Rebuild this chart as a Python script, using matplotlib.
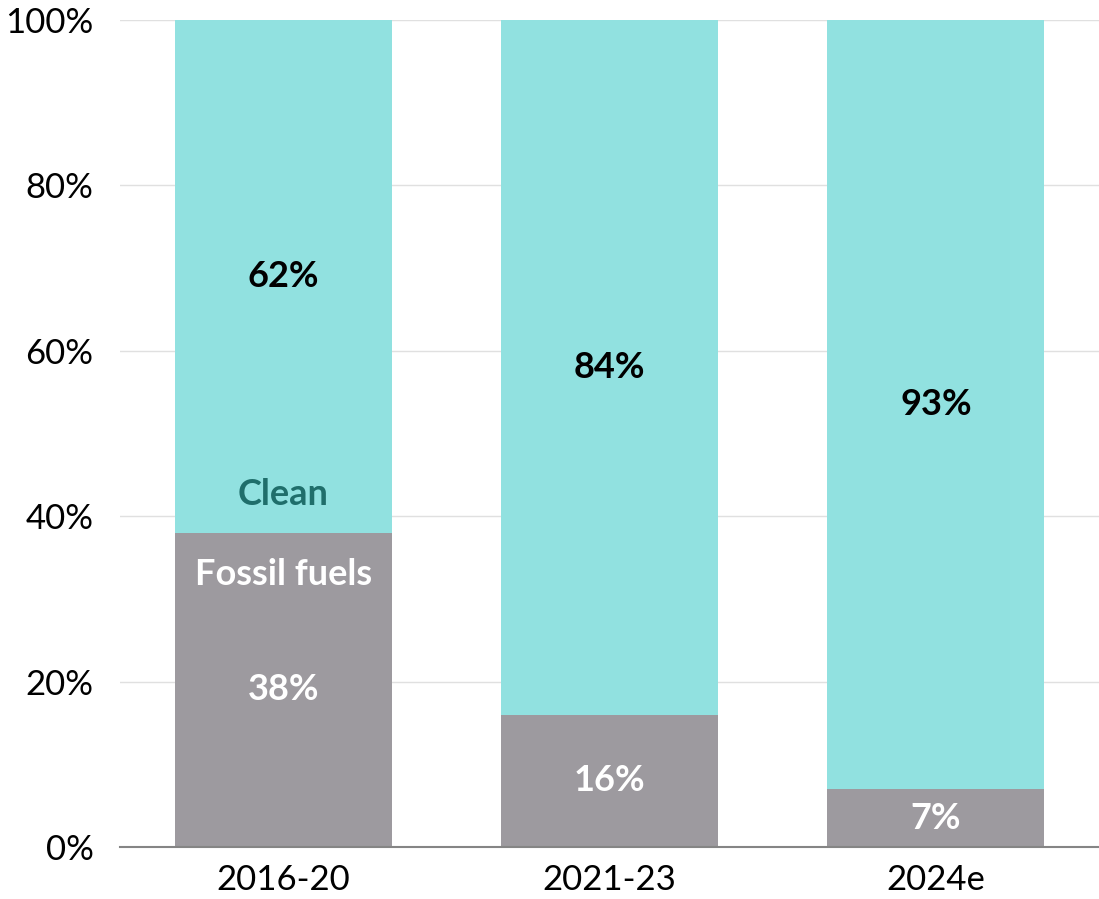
import numpy as np
import matplotlib.pyplot as plt

periods = ["2016-20", "2021-23", "2024e"]
fossil = [38, 16, 7]
clean = [62, 84, 93]
yticks = [0, 20, 40, 60, 80, 100]

fossil_color = "#9d9a9f"
clean_color = "#91e1e0"

plt.rcParams["font.family"] = ["Lato", "DejaVu Sans"]

fig = plt.figure(figsize=(10.99, 8.99), dpi=100)
ax = fig.add_axes([120 / 1099, 1 - 847 / 899, 1 - 120 / 1099, (847 - 20) / 899])

x = np.arange(len(periods))
w = 0.665
ax.bar(x, fossil, width=w, color=fossil_color, zorder=2)
ax.bar(x, clean, width=w, bottom=fossil, color=clean_color, zorder=2)

lbl = dict(ha="center", va="center", fontsize=26, fontweight="bold", zorder=3)
for xi, f, c in zip(x, fossil, clean):
    ax.text(xi, f / 2, f"{f}%", color="white", **lbl)
    ax.text(xi, f + c / 2, f"{c}%", color="black", **lbl)

# series names inside the first bar
ax.text(x[0], fossil[0] + 4.6, "Clean", color="#1f6e6b", **lbl)
ax.text(x[0], fossil[0] - 5, "Fossil fuels", color="white", **lbl)

ax.set_xlim(-0.5, 2.5)
ax.set_ylim(0, 100)
ax.set_yticks(yticks)
ax.set_yticklabels([f"{t}%" for t in yticks])
ax.set_xticks(x)
ax.set_xticklabels(periods)
ax.tick_params(axis="both", length=0, labelsize=25)
ax.tick_params(axis="y", pad=19)
ax.tick_params(axis="x", pad=12)
ax.yaxis.grid(True, color="#e0e0e0", linewidth=1, zorder=0)
ax.set_axisbelow(True)
for s in ["top", "right", "left"]:
    ax.spines[s].set_visible(False)
ax.spines["bottom"].set_color("#858585")
ax.spines["bottom"].set_linewidth(1.5)
ax.spines["bottom"].set_zorder(4)

fig.savefig("out.png", dpi=100)
